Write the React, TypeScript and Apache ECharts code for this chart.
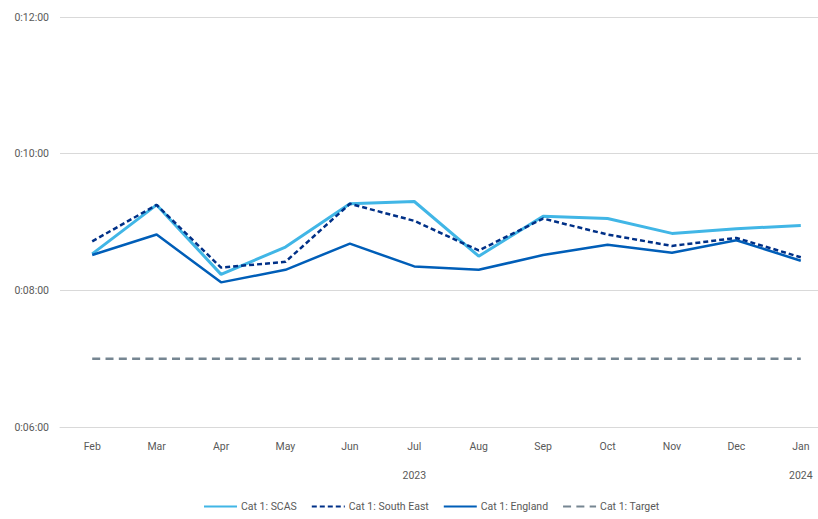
import React, { useEffect, useRef } from "react";
import * as echarts from "echarts";

// Monthly Category 1 mean response times, in seconds
const months = ["Feb", "Mar", "Apr", "May", "Jun", "Jul", "Aug", "Sep", "Oct", "Nov", "Dec", "Jan"];
const years = ["", "", "", "", "", "2023", "", "", "", "", "", "2024"];

const scas = [512, 555, 494, 518, 556, 558, 510, 545, 543, 530, 534, 537];
const southEast = [523, 555, 500, 505, 556, 541, 515, 543, 529, 519, 526, 509];
const england = [511, 529, 487, 498, 521, 501, 498, 511, 520, 513, 524, 506];
const target = [420, 420, 420, 420, 420, 420, 420, 420, 420, 420, 420, 420];

const yMin = 360;
const yMax = 720;
const yStep = 120;

const FONT = "Roboto, 'Noto Sans', sans-serif";
const TEXT = "#595959";
const FS = 10.5;

const fmtTime = (s: number) => {
  const m = Math.floor(s / 60);
  const sec = Math.round(s % 60);
  return `0:${String(m).padStart(2, "0")}:${String(sec).padStart(2, "0")}`;
};

export default function App() {
  const ref = useRef<HTMLDivElement>(null);

  useEffect(() => {
    if (!ref.current) return;
    const chart = echarts.init(ref.current, undefined, { renderer: "svg" });
    chart.setOption({
      animation: false,
      backgroundColor: "#ffffff",
      textStyle: { fontFamily: FONT },
      grid: { left: 60, top: 17, height: 410, right: 7, containLabel: false },
      xAxis: [
        {
          type: "category",
          data: months,
          boundaryGap: true,
          axisLine: { show: true, lineStyle: { color: "#d9d9d9", width: 1 } },
          axisTick: { show: false },
          axisLabel: { color: TEXT, fontSize: FS, margin: 14, fontFamily: FONT },
        },
        {
          type: "category",
          data: years,
          position: "bottom",
          offset: 29,
          boundaryGap: true,
          axisLine: { show: false },
          axisTick: { show: false },
          axisLabel: { color: TEXT, fontSize: FS, margin: 14, interval: 0, fontFamily: FONT },
        },
      ],
      yAxis: {
        type: "value",
        min: yMin,
        max: yMax,
        interval: yStep,
        axisLine: { show: false },
        axisTick: { show: false },
        splitLine: { lineStyle: { color: "#d9d9d9", width: 1 } },
        axisLabel: { color: TEXT, fontSize: FS, margin: 11, formatter: (v: number) => fmtTime(v), fontFamily: FONT },
      },
      legend: {
        bottom: 2,
        left: 198,
        itemWidth: 33,
        itemHeight: 10,
        itemGap: 14,
        itemStyle: { opacity: 0 },
        textStyle: { color: TEXT, fontSize: FS, fontFamily: FONT, padding: [0, 0, 0, -1] },
        data: ["Cat 1: SCAS", "Cat 1: South East", "Cat 1: England", "Cat 1: Target"],
      },
      series: [
        {
          name: "Cat 1: SCAS",
          type: "line",
          data: scas,
          symbol: "none",
          z: 2,
          lineStyle: { color: "#41b6e6", width: 3 },
          itemStyle: { color: "#41b6e6" },
        },
        {
          name: "Cat 1: South East",
          type: "line",
          data: southEast,
          symbol: "none",
          z: 4,
          lineStyle: { color: "#003087", width: 2.5, type: [5, 3] },
          itemStyle: { color: "#003087" },
        },
        {
          name: "Cat 1: England",
          type: "line",
          data: england,
          symbol: "none",
          z: 3,
          lineStyle: { color: "#005eb8", width: 2.5 },
          itemStyle: { color: "#005eb8" },
        },
        {
          name: "Cat 1: Target",
          type: "line",
          data: target,
          symbol: "none",
          z: 2,
          lineStyle: { color: "#768692", width: 2.5, type: [8, 5.3] },
          itemStyle: { color: "#768692" },
        },
      ],
    });
    return () => chart.dispose();
  }, []);

  return (
    <div
      ref={ref}
      style={{ position: "fixed", left: 0, top: 0, width: 840, height: 519, background: "#fff" }}
    />
  );
}
